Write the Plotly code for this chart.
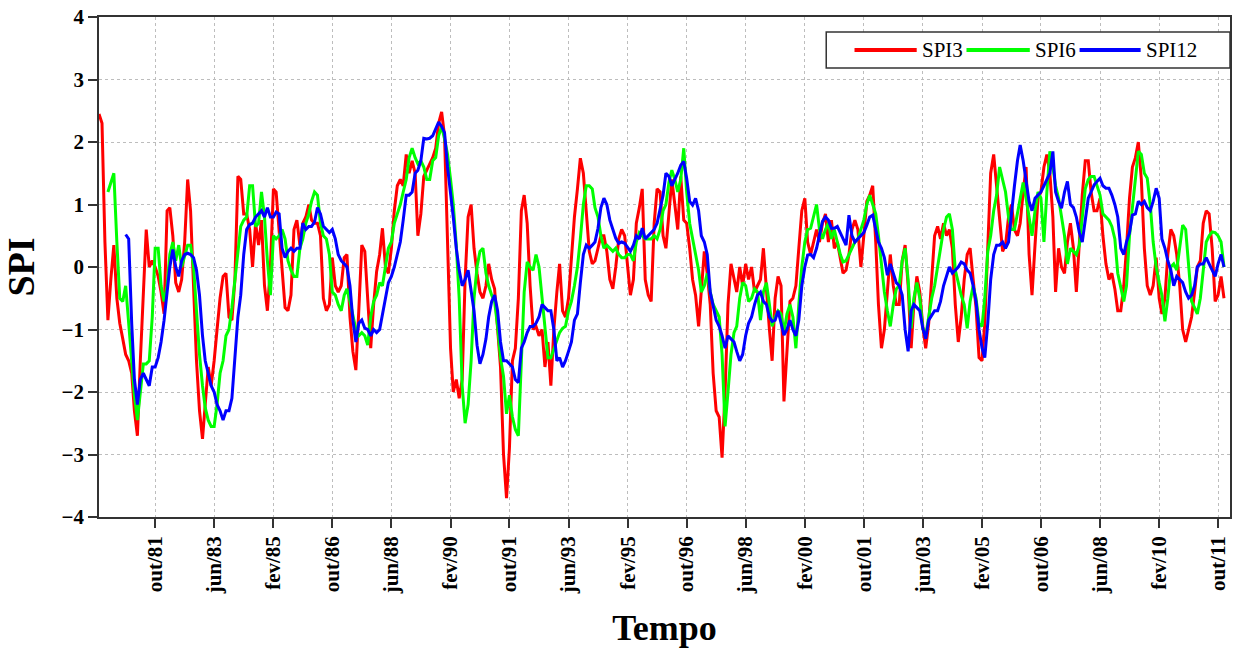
import pandas as pd
import plotly.graph_objects as go

# ---------------- data (monthly SPI values) ----------------
spi3_start = "1980-03-01"
spi6_start = "1980-06-01"
spi12_start = "1980-12-01"

spi3 = [
    2.45, 2.3, 0.4, -0.85, -0.2, 0.35, -0.5, -0.9, -1.15, -1.4,
    -1.5, -1.7, -2.3, -2.7, -1.5, -0.3, 0.6, 0.0, 0.1, 0.0, -0.15, -0.4,
    -0.75, 0.9, 0.95, 0.5, -0.25, -0.4, -0.2, 0.4, 1.4, 0.9, -0.3, -1.5,
    -2.3, -2.75, -2.2, -1.6, -1.9, -1.5, -1.0, -0.5, -0.15, -0.1, -0.8, -0.85,
    -0.2, 1.45, 1.4, 0.85, 0.85, 0.6, 0.0, 0.7, 0.35, 0.75, -0.3, -0.7,
    0.0, 1.25, 1.2, 0.55, -0.1, -0.65, -0.7, -0.45, 0.6, 0.75, 0.35, 0.7,
    0.8, 1.0, 0.75, 0.7, 0.7, 0.5, -0.5, -0.7, -0.6, 0.15, -0.3, -0.4,
    -0.3, 0.15, 0.2, -0.8, -1.35, -1.65, -0.7, 0.35, 0.25, -0.6, -1.3, -0.6,
    -0.07, 0.2, 0.62, 0.0, -0.1, 0.3, 0.9, 1.3, 1.4, 1.3, 1.8, 1.5,
    1.7, 1.5, 0.5, 0.85, 1.45, 1.55, 1.65, 1.75, 1.9, 2.3, 2.48, 2.1,
    0.4, -1.3, -2.0, -1.8, -2.1, -1.8, -0.2, 0.8, 1.0, 0.3, -0.1, -0.4,
    -0.5, -0.3, 0.05, -0.2, -0.35, -0.95, -1.6, -3.0, -3.7, -2.9, -1.5, -1.3,
    -0.5, 0.9, 1.15, 0.7, -0.3, -1.0, -0.95, -1.1, -1.0, -1.6, -1.2, -1.9,
    -1.0, -0.4, 0.05, -0.7, -0.8, -0.5, 0.2, 0.8, 1.25, 1.74, 1.5, 0.8,
    0.25, 0.05, 0.1, 0.3, 0.5, 0.5, 0.25, -0.2, -0.35, 0.0, 0.45, 0.6,
    0.5, 0.0, -0.45, -0.2, 0.7, 0.95, 1.25, -0.2, -0.45, -0.55, 0.7, 1.25,
    1.2, 0.5, 0.3, 0.85, 1.4, 1.0, 0.6, 1.45, 0.75, 0.7, 0.3, -0.2,
    -0.45, -0.95, -0.4, 0.25, -0.1, -0.6, -1.7, -2.3, -2.4, -3.05, -2.0, -0.6,
    0.05, -0.2, -0.4, 0.0, -0.3, 0.05, -0.2, 0.0, -0.4, -0.3, -0.2, 0.3,
    -0.4, -1.0, -1.5, -0.5, -0.15, -0.3, -2.15, -1.3, -0.55, -0.5, -0.3, 0.3,
    0.9, 1.1, 0.4, 0.2, 0.4, 0.6, 0.4, 0.7, 0.85, 0.4, 0.75, 0.3,
    0.4, 0.1, -0.1, -0.05, 0.2, 0.6, 0.75, 0.6, 0.0, 0.5, 1.05, 1.15,
    1.3, 0.4, -0.6, -1.3, -1.0, -0.4, 0.2, -0.3, -0.6, -0.6, 0.1, 0.35,
    -0.3, -1.3, -0.6, -0.15, -0.4, -0.95, -1.3, -0.9, -0.2, 0.5, 0.65, 0.45,
    0.7, 0.5, 0.6, 0.3, -0.6, -1.2, -0.8, -0.2, 0.2, 0.3, -0.2, -0.65,
    -1.45, -1.5, -0.9, 0.3, 1.5, 1.8, 1.3, 0.7, 0.25, 0.35, 0.8, 1.0,
    0.6, 0.5, 0.7, 1.2, 1.6, 0.2, -0.45, 0.35, 1.1, 1.2, 1.6, 1.8,
    1.5, 0.8, -0.4, 0.3, 0.0, -0.1, 0.4, 0.7, 0.3, -0.4, 0.4, 1.15,
    1.7, 1.7, 1.2, 0.9, 0.9, 1.1, 0.5, 0.05, -0.2, -0.1, -0.35, -0.7,
    -0.7, -0.3, 0.3, 1.1, 1.6, 1.75, 2.0, 1.4, 0.3, -0.3, -0.45, -0.3,
    0.15, -0.5, -0.75, -0.5, 0.2, 0.6, 0.5, 0.2, -0.3, -1.0, -1.2, -1.0,
    -0.8, -0.4, 0.0, 0.1, 0.7, 0.9, 0.85, 0.3, -0.55, -0.45, -0.15, -0.5,
]

spi6 = [
    1.2, 1.35, 1.5, 0.4, -0.5, -0.55, -0.3,
    -0.9, -1.5, -2.05, -2.45, -2.0, -1.55, -1.55, -1.5, -0.8, 0.3, 0.3, -0.3,
    -0.55, -0.3, 0.2, 0.4, 0.1, 0.35, 0.0, 0.2, 0.35, 0.35, 0.0, -0.7,
    -1.4, -1.9, -2.25, -2.45, -2.55, -2.55, -2.2, -1.7, -1.5, -1.1, -1.0, -0.65,
    -0.2, 0.3, 0.65, 0.75, 0.8, 1.3, 1.3, 0.65, 0.7, 1.2, 0.8, 0.1,
    -0.45, 0.5, 0.45, 0.5, 0.6, 0.45, 0.1, -0.05, -0.15, -0.15, 0.3, 0.45,
    0.7, 0.85, 1.05, 1.2, 1.15, 0.7, 0.5, 0.45, 0.2, -0.4, -0.45, -0.6,
    -0.7, -0.45, -0.35, -0.55, -0.75, -1.0, -1.1, -1.05, -1.1, -1.25, -0.8, -0.55,
    -0.45, -0.25, -0.3, 0.0, 0.3, 0.4, 0.7, 0.85, 1.0, 1.2, 1.4, 1.75,
    1.9, 1.75, 1.65, 1.7, 1.6, 1.4, 1.4, 1.7, 1.75, 2.1, 2.25, 2.05,
    1.8, 1.4, 1.0, 0.35, -0.5, -1.9, -2.5, -2.2, -1.5, -0.5, 0.0, 0.25,
    0.3, -0.1, -0.3, -0.45, -0.55, -0.95, -1.45, -1.75, -2.35, -2.05, -2.4, -2.6,
    -2.7, -1.5, -0.4, 0.08, 0.0, -0.05, 0.2, 0.0, -0.5, -1.05, -1.45, -1.45,
    -1.3, -1.15, -1.05, -0.98, -0.95, -0.7, -0.55, -0.3, 0.0, 0.45, 1.0, 1.3,
    1.3, 1.25, 0.95, 0.8, 0.5, 0.3, 0.35, 0.3, 0.25, 0.3, 0.2, 0.15,
    0.15, 0.2, 0.2, 0.1, 0.4, 0.55, 0.5, 0.45, 0.45, 0.45, 0.5, 0.45,
    0.6, 0.9, 1.0, 1.35, 1.55, 1.4, 1.2, 1.4, 1.9, 1.2, 0.7, 0.45,
    0.15, -0.05, -0.4, -0.3, -0.1, -0.4, -0.6, -0.7, -0.8, -1.4, -2.55, -2.0,
    -1.4, -1.05, -0.95, -0.5, -0.25, -0.3, -0.55, -0.5, -0.35, -0.4, -0.85, -0.4,
    -0.25, -0.6, -0.95, -0.8, -0.7, -0.75, -1.05, -0.75, -0.6, -0.8, -1.3, -0.6,
    0.0, 0.4, 0.6, 0.62, 0.83, 1.0, 0.6, 0.45, 0.6, 0.7, 0.45, 0.6,
    0.4, 0.2, 0.08, 0.1, 0.2, 0.3, 0.4, 0.45, 0.6, 0.75, 1.0, 1.15,
    1.0, 0.85, 0.5, 0.0, -0.4, -0.7, -0.95, -0.6, -0.35, -0.3, 0.1, 0.3,
    -0.2, -0.98, -0.5, -0.25, -0.5, -0.98, -1.1, -0.8, -0.5, -0.3, 0.0, 0.3,
    0.6, 0.8, 0.85, 0.6, -0.05, -0.25, -0.45, -0.6, -0.98, -0.55, -0.3, -0.5,
    -0.9, -0.95, -0.5, 0.25, 0.5, 0.9, 1.15, 1.6, 1.4, 1.2, 0.8, 0.6,
    0.6, 0.85, 1.1, 1.35, 1.1, 0.8, 0.5, 0.9, 1.2, 1.1, 0.4, 1.2,
    1.85, 1.6, 1.3, 1.1, 0.8, 0.5, 0.05, 0.3, 0.25, 0.2, 0.35, 0.75,
    1.25, 1.4, 1.45, 1.45, 1.3, 1.15, 0.85, 0.8, 0.75, 0.65, 0.45, -0.1,
    -0.35, -0.55, -0.3, 0.5, 0.95, 1.4, 1.85, 1.8, 1.5, 1.42, 1.0, 0.4,
    0.0, -0.25, -0.45, -0.87, -0.5, 0.0, 0.05, -0.05, 0.3, 0.67, 0.6, 0.0,
    -0.55, -0.65, -0.75, -0.5, -0.1, 0.4, 0.5, 0.56, 0.55, 0.5, 0.4, 0.0,
]

spi12 = [
    0.52,
    0.45, -0.9, -1.8, -2.2, -1.8, -1.7, -1.8, -1.9, -1.6, -1.6, -1.45, -1.2,
    -0.85, -0.4, 0.0, 0.28, 0.0, -0.15, 0.1, 0.2, 0.22, 0.2, 0.15, -0.05,
    -0.45, -1.1, -1.5, -1.7, -1.9, -2.0, -2.2, -2.3, -2.45, -2.3, -2.3, -2.1,
    -1.5, -0.8, -0.45, 0.2, 0.6, 0.68, 0.7, 0.8, 0.85, 0.9, 0.8, 0.95,
    0.8, 0.8, 0.88, 0.85, 0.3, 0.15, 0.25, 0.3, 0.25, 0.3, 0.3, 0.7,
    0.6, 0.65, 0.65, 0.72, 0.95, 0.85, 0.65, 0.6, 0.55, 0.6, 0.45, 0.2,
    0.1, 0.05, 0.0, -0.3, -0.85, -1.2, -0.9, -0.85, -0.98, -1.0, -1.1, -1.0,
    -1.05, -1.0, -0.75, -0.5, -0.25, -0.15, 0.0, 0.2, 0.4, 0.75, 1.15, 1.15,
    1.2, 1.5, 1.55, 1.7, 2.06, 2.05, 2.06, 2.1, 2.2, 2.32, 2.25, 2.15,
    1.6, 1.2, 0.8, 0.3, -0.05, -0.3, -0.2, -0.05, -0.4, -0.7, -1.25, -1.55,
    -1.4, -1.15, -0.8, -0.55, -0.45, -0.7, -1.2, -1.5, -1.5, -1.55, -1.6, -1.8,
    -1.85, -1.3, -1.2, -1.05, -0.95, -0.95, -0.9, -0.8, -0.6, -0.65, -0.7, -0.7,
    -1.0, -1.5, -1.45, -1.6, -1.5, -1.35, -1.2, -0.85, -0.75, -0.25, 0.2, 0.35,
    0.3, 0.35, 0.4, 0.62, 0.95, 1.1, 1.0, 0.75, 0.6, 0.46, 0.38, 0.4,
    0.38, 0.3, 0.25, 0.35, 0.5, 0.45, 0.62, 0.45, 0.5, 0.55, 0.6, 0.7,
    0.95, 1.15, 1.5, 1.45, 1.3, 1.4, 1.5, 1.63, 1.69, 1.42, 1.05, 0.99,
    1.1, 0.9, 0.5, 0.4, 0.2, -0.4, -0.6, -0.85, -0.95, -1.1, -1.3, -1.1,
    -1.15, -1.2, -1.35, -1.5, -1.4, -1.1, -0.9, -0.8, -0.6, -0.45, -0.4, -0.55,
    -0.6, -0.8, -0.87, -0.85, -0.7, -0.9, -1.09, -1.0, -0.85, -1.0, -1.1, -0.85,
    -0.3, 0.0, 0.19, 0.2, 0.15, 0.3, 0.5, 0.73, 0.8, 0.75, 0.62, 0.62,
    0.65, 0.55, 0.45, 0.35, 0.83, 0.5, 0.4, 0.45, 0.5, 0.55, 0.67, 0.8,
    0.83, 0.6, 0.4, 0.3, 0.15, -0.13, 0.05, -0.1, -0.25, -0.3, -0.45, -1.0,
    -1.35, -0.7, -0.6, -0.65, -0.7, -0.98, -1.15, -0.85, -0.77, -0.7, -0.7, -0.55,
    -0.3, -0.15, 0.0, -0.1, -0.05, 0.0, 0.08, 0.05, -0.05, -0.1, -0.3, -0.55,
    -1.0, -1.3, -1.45, -0.9, -0.2, 0.2, 0.35, 0.35, 0.4, 0.3, 0.4, 0.9,
    1.3, 1.7, 1.95, 1.7, 1.4, 1.05, 0.9, 1.1, 1.15, 1.2, 1.3, 1.4,
    1.5, 1.85, 1.2, 1.05, 0.94, 1.2, 1.37, 1.0, 0.95, 0.8, 0.55, 0.4,
    0.8, 1.1, 1.2, 1.31, 1.37, 1.42, 1.3, 1.26, 1.26, 1.15, 1.0, 0.8,
    0.3, 0.2, 0.4, 0.55, 0.83, 0.85, 1.05, 1.0, 1.05, 0.95, 0.9, 1.05,
    1.26, 1.1, 0.45, 0.3, 0.1, -0.05, -0.3, -0.15, -0.2, -0.25, -0.4, -0.5,
    -0.45, -0.3, 0.0, 0.05, 0.05, 0.15, 0.05, -0.05, -0.15, 0.05, 0.2, 0.0,
]

tick_dates = ["1981-10-01", "1983-06-01", "1985-02-01", "1986-10-01", "1988-06-01",
              "1990-02-01", "1991-10-01", "1993-06-01", "1995-02-01", "1996-10-01",
              "1998-06-01", "2000-02-01", "2001-10-01", "2003-06-01", "2005-02-01",
              "2006-10-01", "2008-06-01", "2010-02-01", "2011-10-01"]
tick_labels = ["out/81", "jun/83", "fev/85", "out/86", "jun/88", "fev/90", "out/91",
               "jun/93", "fev/95", "out/96", "jun/98", "fev/00", "out/01", "jun/03",
               "fev/05", "out/06", "jun/08", "fev/10", "out/11"]

series_names = ["SPI3", "SPI6", "SPI12"]
series_colors = ["#FF0000", "#00FF00", "#0000FF"]

# ---------------- figure ----------------
SERIF = "Liberation Serif"
AXC = "#333333"

fig = go.Figure()
for name, start, vals, col in zip(series_names,
                                  [spi3_start, spi6_start, spi12_start],
                                  [spi3, spi6, spi12], series_colors):
    dates = pd.date_range(start, periods=len(vals), freq="MS")
    fig.add_trace(go.Scatter(x=dates, y=vals, mode="lines", name=name,
                             line=dict(color=col, width=3), showlegend=False))

axis_common = dict(
    showline=True, linecolor=AXC, linewidth=1.5, mirror=True,
    ticks="outside", ticklen=9, tickwidth=1.5, tickcolor=AXC,
    showgrid=True, gridcolor="#BDBDBD", gridwidth=1, griddash="3px,3px",
    zeroline=False, automargin=False, ticklabeloverflow="allow",
)

# legend drawn as a boxed key in the upper right of the plot area (paper coords)
legend_box = dict(x0=0.643, x1=1.0, y0=0.898, y1=0.970)
legend_row_y = 0.934
legend_slots = [(0.668, 0.723), (0.767, 0.823), (0.867, 0.921)]
shapes = [dict(type="rect", xref="paper", yref="paper", layer="above",
               line=dict(color=AXC, width=1.5), fillcolor="white", **legend_box)]
annotations = []
for (lx0, lx1), name, col in zip(legend_slots, series_names, series_colors):
    shapes.append(dict(type="line", xref="paper", yref="paper", layer="above",
                       x0=lx0, x1=lx1, y0=legend_row_y, y1=legend_row_y,
                       line=dict(color=col, width=4)))
    annotations.append(dict(text=name, xref="paper", yref="paper",
                            x=lx1 + 0.003, y=legend_row_y, xanchor="left",
                            yanchor="middle", showarrow=False,
                            font=dict(family=SERIF, size=21, color="black")))

fig.update_layout(
    width=1246, height=648,
    margin=dict(l=99, r=16, t=17, b=131),
    paper_bgcolor="white", plot_bgcolor="white",
    shapes=shapes, annotations=annotations,
    xaxis=dict(
        **axis_common,
        type="date",
        range=["1980-03-01", "2012-02-01"],
        tickmode="array", tickvals=tick_dates, ticktext=tick_labels,
        tickangle=-90,
        tickfont=dict(family=SERIF, size=21, color="black", weight="bold"),
        title=dict(text="Tempo", standoff=28,
                   font=dict(family=SERIF, size=36, color="black", weight="bold")),
    ),
    yaxis=dict(
        **axis_common,
        range=[-4, 4], dtick=1, tick0=0,
        tickfont=dict(family=SERIF, size=21, color="black", weight="bold"),
        title=dict(text="SPI", standoff=16,
                   font=dict(family=SERIF, size=38, color="black", weight="bold")),
    ),
)

# remove the browser's default 8px page margin so the figure fills the window
fig.write_html("out.html",
               config={"displayModeBar": False},
               post_script="document.body.style.margin='0';"
                           "document.body.style.overflow='hidden';")
